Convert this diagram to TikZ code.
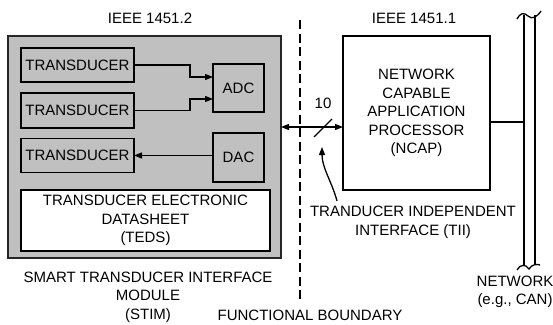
\documentclass[tikz,border=0pt]{standalone}
\usepackage{fontspec}
\setmainfont{Liberation Sans}
\usetikzlibrary{arrows.meta}
\definecolor{stimgray}{RGB}{192,192,192}
\begin{document}
\begin{tikzpicture}[x=1pt,y=-1pt,
  every node/.style={font=\fontsize{15}{18.5}\selectfont, inner sep=0pt, outer sep=0pt, align=center},
  line width=1.3pt,
  graybox/.style={draw, fill=stimgray, line width=1.3pt},
  whitebox/.style={draw, fill=white, line width=1.3pt},
  arr/.style={-{Triangle[length=8pt,width=6pt]}},
  arrtwo/.style={{Triangle[length=8pt,width=6pt]}-{Triangle[length=8pt,width=6pt]}}]
\useasboundingbox (0,0) rectangle (553,324);
% STIM
\node[graybox, line width=1.8pt, draw=black!85, minimum width=273, minimum height=222] (stim) at (144.5,147) {};
\node[graybox, minimum width=113, minimum height=34] (t1) at (77.5,65) {TRANSDUCER};
\node[graybox, minimum width=113, minimum height=35] (t2) at (77.5,110.5) {TRANSDUCER};
\node[graybox, minimum width=113, minimum height=34] (t3) at (77.5,155.5) {TRANSDUCER};
\node[graybox, minimum width=51, minimum height=48] (adc) at (238.5,88) {ADC};
\node[graybox, minimum width=51, minimum height=49] (dac) at (238.5,157.5) {DAC};
\node[whitebox, minimum width=249, minimum height=61] (teds) at (145.5,220.5) {TRANSDUCER ELECTRONIC\\DATASHEET\\(TEDS)};
\draw[arr] (t1.east) -- ++(56,0) |- ([yshift=11pt]adc.west);
\draw[arr] (t2.east) -- ++(56,0) |- ([yshift=-11pt]adc.west);
\draw[arr] (t3.east -| dac.west) -- (t3.east);
% labels
\node (l12) at (150,18) {IEEE 1451.2};
\node (l11) at (414,18) {IEEE 1451.1};
\node (lstim) at (148,297) {SMART TRANSDUCER INTERFACE\\MODULE\\(STIM)};
\node (lfb) at (310,315) {FUNCTIONAL BOUNDARY};
% boundary
\coordinate (fbtop) at (300,20);
\coordinate (fbbot) at (300,303);
\draw[dash pattern=on 9pt off 4.5pt, line width=1.1pt] (fbtop) -- (fbbot);
% NCAP
\node[whitebox, minimum width=147, minimum height=154] (ncap) at (416.5,113) {NETWORK\\CAPABLE\\APPLICATION\\PROCESSOR\\(NCAP)};
\coordinate (ay) at (0,127);
\draw[arrtwo] (stim.east |- ay) -- (ncap.west |- ay);
\coordinate (s1) at (314,137);
\coordinate (s2) at (332,119);
\draw (s1) -- (s2);
\node (l10) at (323,103) {10};
\node (ltii) at (413,222.5) {TRANDUCER INDEPENDENT\\INTERFACE (TII)};
\coordinate (tiiend) at (322,147);
\draw[arr] (337,201) .. controls (332,182) and (322,168) .. (tiiend);
% network bus
\coordinate (busLt) at (524,15);
\coordinate (busLb) at (524,265);
\coordinate (busRt) at (535,15);
\coordinate (busRb) at (535,265);
\draw (busLt) -- (busLb);
\draw (busRt) -- (busRb);
\draw (517,19) .. controls (520,13) and (524,12) .. (528,16) .. controls (532,20) and (537,17) .. (541,11);
\draw (517,270) .. controls (520,264) and (526,264) .. (529,269) .. controls (532,264) and (537,264) .. (540,265);
\coordinate (busc) at (524,122);
\draw (ncap.east |- busc) -- (busc);
\node (lnet) at (515,292) {NETWORK\\(e.g., CAN)};
\end{tikzpicture}
\end{document}
